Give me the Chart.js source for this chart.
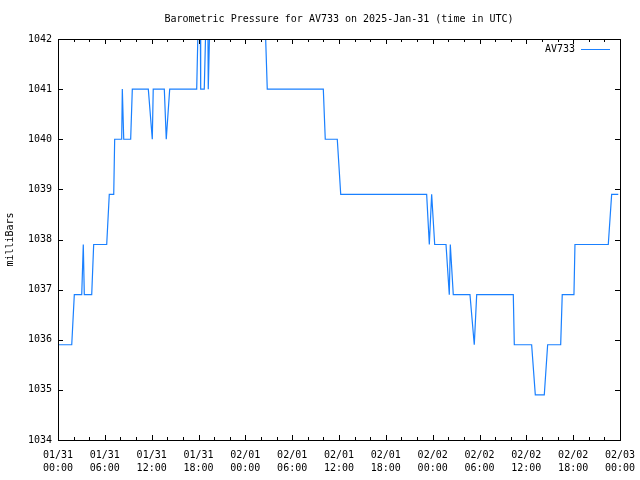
<!DOCTYPE html>
<html>
<head>
<meta charset="utf-8">
<script src="https://cdn.jsdelivr.net/npm/chart.js@4/dist/chart.umd.min.js"></script>
<style>
  body { margin: 0; background: #fff; }
  #wrap { width: 640px; height: 480px; }
</style>
</head>
<body>
<div id="wrap"><canvas id="grafico" width="640" height="480"></canvas></div>
<script>
// horas desde 01/31 00:00 UTC
const horas = [0, 1.76, 2.09, 3.04, 3.24, 3.37, 4.32, 4.57, 6.24, 6.57, 7.14, 7.26,
  8.16, 8.24, 8.42, 9.31, 9.52, 11.57, 12.08, 12.2, 13.62, 13.87, 14.31,
  17.77, 18.05, 18.2, 18.28, 18.74, 19.05, 19.18, 19.25, 19.31, 19.55, 26.4, 26.81,
  33.99, 34.24, 35.78, 36.22, 47.23, 47.57, 47.87, 48.26, 49.71, 50.13, 50.26, 50.64,
  52.78, 53.33, 53.64, 58.33, 58.46, 60.68, 61.15, 62.3, 62.73, 64.4, 64.6,
  66.1, 66.23, 70.5, 70.93, 71.78];
// pressao em milliBars
const pressao = [1035.9, 1035.9, 1036.9, 1036.9, 1037.9, 1036.9, 1036.9, 1037.9, 1037.9, 1038.9, 1038.9, 1040.0,
  1040.0, 1041.0, 1040.0, 1040.0, 1041.0, 1041.0, 1040.0, 1041.0, 1041.0, 1040.0, 1041.0,
  1041.0, 1043.0, 1043.0, 1041.0, 1041.0, 1043.0, 1043.0, 1041.0, 1041.0, 1043.0, 1043.0, 1041.0,
  1041.0, 1040.0, 1040.0, 1038.9, 1038.9, 1037.9, 1038.9, 1037.9, 1037.9, 1036.9, 1037.9, 1036.9,
  1036.9, 1035.9, 1036.9, 1036.9, 1035.9, 1035.9, 1034.9, 1034.9, 1035.9, 1035.9, 1036.9,
  1036.9, 1037.9, 1037.9, 1038.9, 1038.9];
const dias = ['01/31', '02/01', '02/02', '02/03'];

const fonte = '10px "DejaVu Sans Mono"';

let pontos = [];
for (let i = 0; i < horas.length; i++) {
  pontos.push({ x: horas[i], y: pressao[i] });
}

//Desenha moldura, ticks internos, titulo e legenda
const moldura = {
  id: 'moldura',
  afterDraw(chart) {
    const c = chart.ctx;
    const a = chart.chartArea;
    const sx = chart.scales.x;
    const sy = chart.scales.y;
    c.save();
    c.strokeStyle = '#000';
    c.lineWidth = 1;
    c.beginPath();
    for (let h = 0; h <= 72; h += 2) {
      const px = Math.round(sx.getPixelForValue(h)) + 0.5;
      const len = h % 6 === 0 ? 5 : 3;
      c.moveTo(px, a.bottom); c.lineTo(px, a.bottom - len);
      c.moveTo(px, a.top); c.lineTo(px, a.top + len);
    }
    for (let v = 1034; v <= 1042; v++) {
      const py = Math.round(sy.getPixelForValue(v)) + 0.5;
      c.moveTo(a.left, py); c.lineTo(a.left + 5, py);
      c.moveTo(a.right, py); c.lineTo(a.right - 5, py);
    }
    c.stroke();
    c.strokeRect(a.left + 0.5, a.top + 0.5, a.right - a.left, a.bottom - a.top);

    c.fillStyle = '#000';
    c.font = fonte;
    c.textAlign = 'center';
    c.textBaseline = 'middle';
    c.fillText('Barometric Pressure for AV733 on 2025-Jan-31 (time in UTC)', (a.left + a.right) / 2, 19);

    c.textAlign = 'right';
    c.fillText('AV733', 575, 49);
    c.strokeStyle = '#1a80ff';
    c.beginPath();
    c.moveTo(581, 49.5); c.lineTo(610, 49.5);
    c.stroke();
    c.restore();
  }
};

const ctx = document.getElementById('grafico');
new Chart(ctx, {
  type: 'line',
  data: {
    datasets: [{
      label: 'AV733',
      data: pontos,
      borderColor: '#1a80ff',
      borderWidth: 1.2,
      pointRadius: 0,
      tension: 0,
      fill: false,
      clip: 0
    }]
  },
  options: {
    responsive: false,
    animation: false,
    layout: { padding: { top: 39, right: 20, left: 0, bottom: 0 } },
    plugins: { legend: { display: false }, tooltip: { enabled: false } },
    scales: {
      x: {
        type: 'linear',
        min: 0,
        max: 72,
        grid: { display: false, drawTicks: false },
        border: { display: false },
        afterFit: s => { s.height = 40; s.paddingLeft = 0; s.paddingRight = 0; },
        ticks: {
          stepSize: 6,
          autoSkip: false,
          maxRotation: 0,
          padding: 9,
          color: '#000',
          font: { family: 'DejaVu Sans Mono', size: 10, lineHeight: 1.3 },
          callback: v => {
            const d = Math.floor(v / 24);
            const h = v % 24;
            return [dias[d], (h < 10 ? '0' : '') + h + ':00'];
          }
        }
      },
      y: {
        min: 1034,
        max: 1042,
        grid: { display: false, drawTicks: false },
        border: { display: false },
        afterFit: s => { s.width = 58; s.paddingTop = 0; s.paddingBottom = 0; },
        title: {
          display: true,
          text: 'milliBars',
          color: '#000',
          font: { family: 'DejaVu Sans Mono', size: 10 }
        },
        ticks: {
          stepSize: 1,
          padding: 6,
          color: '#000',
          font: { family: 'DejaVu Sans Mono', size: 10 },
          callback: v => v.toString()
        }
      }
    }
  },
  plugins: [moldura]
});
</script>
</body>
</html>
